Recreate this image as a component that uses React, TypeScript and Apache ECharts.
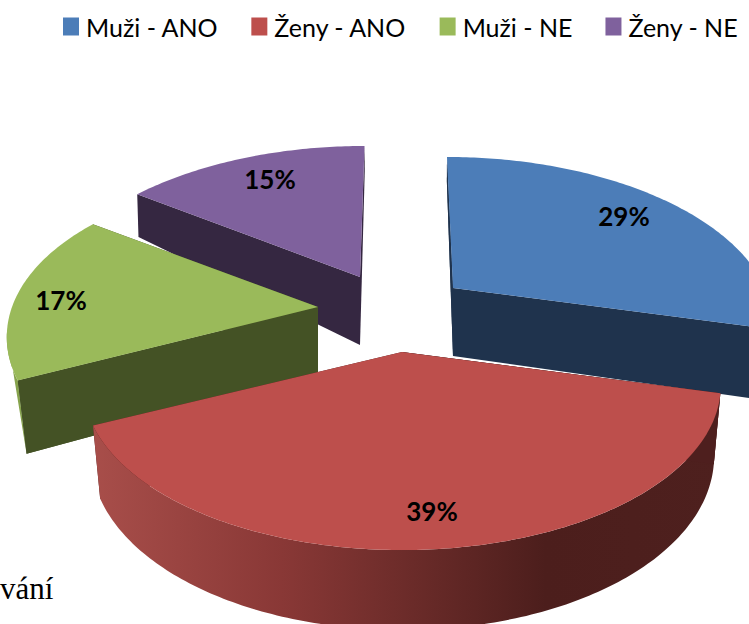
import React, { useEffect, useRef } from "react";
import * as echarts from "echarts";

const categories = ["Muži - ANO", "Ženy - ANO", "Muži - NE", "Ženy - NE"];
const shares = [29, 39, 17, 15];
const faceColors = ["#4c7db8", "#bd4f4c", "#9aba5a", "#7f619d"];
const sideColors = ["#1f334d", "#4e1f1e", "#445225", "#352741"];
const rimColors = ["#1f334d", "#7c3331", "#86a34c", "#352741"];

// layout of the exploded slices (screen positions of each slice's tip, and of its label)
const tips = [[453, 288], [402, 352], [318, 307], [360, 277]];
const labelSpots = [[624, 216], [432, 511], [61, 300], [270, 179]];
const vanishX = [400, 400, 258, 400];
const radiusX = [312, 312, 306, 312];
const drawOrder = [3, 2, 0, 1];

const V_RADIUS = 157.7;
const TILT = 0.2037;
const SKEW = 0.113;
const FLOOR_X = 420;
const FLOOR_PULL = 0.022;
const LEFTMOST_ANGLE = (Math.PI * 3) / 2 - 0.16;

const angleOf = (pct: number) => (pct / 100) * Math.PI * 2;
const depthAt = (c: number) => (c >= 0 ? 68 - 43 * c : 68 - 12 * c);

function rimPoint(i: number, theta: number): number[] {
  const [ax, ay] = tips[i];
  const s = Math.sin(theta);
  const c = Math.cos(theta);
  const w = 1 + TILT * c;
  return [ax + (radiusX[i] * s) / w + (vanishX[i] - ax) * SKEW * c, ay - (V_RADIUS * c) / w];
}

function drop(p: number[], theta: number): number[] {
  const c = Math.cos(theta);
  const pull = c < 0 ? FLOOR_PULL : FLOOR_PULL * 0.2;
  return [p[0] + (FLOOR_X - p[0]) * pull, p[1] + depthAt(c)];
}

function arc(i: number, a0: number, a1: number): number[][] {
  const n = Math.max(1, Math.ceil(Math.abs(a1 - a0) / 0.015));
  const out: number[][] = [];
  for (let k = 0; k <= n; k++) out.push(rimPoint(i, a0 + ((a1 - a0) * k) / n));
  return out;
}

function wall(i: number, theta: number, fill: string) {
  const [ax, ay] = tips[i];
  const p = rimPoint(i, theta);
  return {
    type: "polygon",
    shape: { points: [[ax, ay], p, drop(p, theta), [ax, ay + 68]] },
    style: { fill },
  };
}

function renderSlice(params: any, api: any) {
  const i = categories.indexOf(params.seriesName);
  const value = api.value(0);
  const before = shares.slice(0, i).reduce((a, b) => a + b, 0);
  const a0 = angleOf(before);
  const a1 = angleOf(before + value);
  const children: any[] = [wall(i, a0, sideColors[i]), wall(i, a1, sideColors[i])];

  // outer rim: the part turned toward the viewer
  const lo = Math.max(a0, Math.PI / 2);
  const hi = Math.min(a1, LEFTMOST_ANGLE);
  if (hi > lo) {
    const top = arc(i, lo, hi);
    const bottom =
      i === 1
        ? top.map((p, k) => drop(p, lo + ((hi - lo) * k) / (top.length - 1))).reverse()
        : [drop(top[0], lo)];
    const fill =
      i === 1
        ? new echarts.graphic.LinearGradient(93, 0, 722, 0, [
            { offset: 0, color: "#a84e4a" },
            { offset: 0.3, color: "#893836" },
            { offset: 0.72, color: "#4c1e1c" },
            { offset: 1, color: "#4e201e" },
          ], true)
        : rimColors[i];
    children.push({ type: "polygon", shape: { points: [...top, ...bottom] }, style: { fill } });
    children.push(wall(i, a0, sideColors[i]));
  }

  children.push({
    type: "polygon",
    shape: { points: [tips[i], ...arc(i, a0, a1)] },
    style: { fill: faceColors[i] },
  });
  children.push({
    type: "text",
    style: {
      text: `${value}%`,
      x: labelSpots[i][0],
      y: labelSpots[i][1],
      align: "center",
      verticalAlign: "middle",
      fontFamily: "Lato",
      fontWeight: "bold",
      fontSize: 26,
      fill: "#000",
    },
  });
  return { type: "group", children };
}

export default function App() {
  const ref = useRef<HTMLDivElement>(null);
  useEffect(() => {
    const chart = echarts.init(ref.current!, null, { renderer: "svg" });
    chart.setOption({
      animation: false,
      backgroundColor: "#fff",
      legend: {
        data: categories,
        left: 63,
        top: 14,
        padding: 0,
        icon: "rect",
        itemWidth: 16,
        itemHeight: 18,
        itemGap: 33,
        selectedMode: false,
        textStyle: { fontFamily: "Lato", fontSize: 25, color: "#000", padding: [0, 0, 0, 2] },
      },
      graphic: [
        {
          type: "text",
          x: 0,
          y: 573,
          style: { text: "vání", fontFamily: "Liberation Serif", fontSize: 31, fill: "#000" },
        },
      ],
      series: drawOrder.map((i) => ({
        type: "custom",
        name: categories[i],
        coordinateSystem: "none",
        itemStyle: { color: faceColors[i] },
        data: [[shares[i]]],
        renderItem: renderSlice,
      })),
    });
    return () => chart.dispose();
  }, []);
  return <div ref={ref} style={{ position: "fixed", left: 0, top: 0, width: 749, height: 624 }} />;
}
